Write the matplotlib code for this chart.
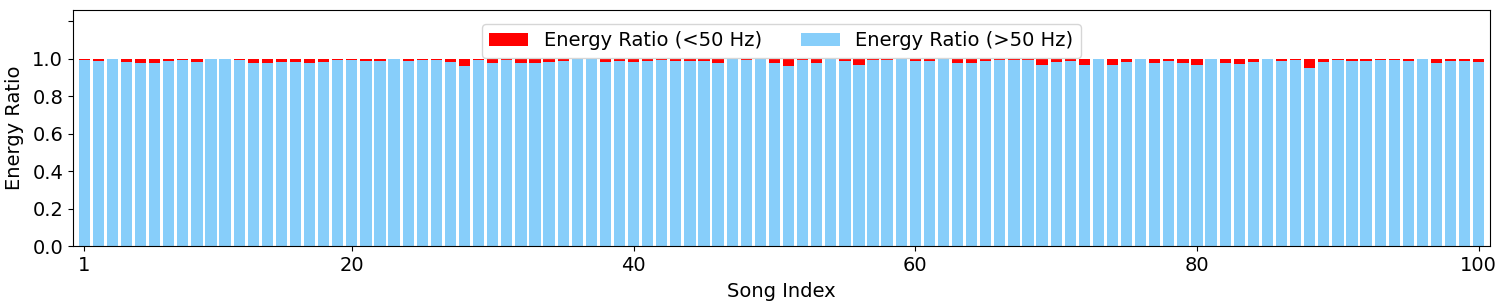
import matplotlib
matplotlib.use("Agg")
import matplotlib.pyplot as plt
import numpy as np

# share of energy below 50 Hz for each song
low_ratio = [0.005, 0.012, 0.003, 0.017, 0.020, 0.023, 0.014, 0.004, 0.015, 0.003,
             0.003, 0.007, 0.023, 0.025, 0.018, 0.018, 0.025, 0.018, 0.009, 0.004,
             0.012, 0.012, 0.003, 0.014, 0.009, 0.007, 0.016, 0.039, 0.009, 0.023,
             0.009, 0.020, 0.020, 0.016, 0.012, 0.003, 0.003, 0.016, 0.011, 0.018,
             0.011, 0.007, 0.011, 0.014, 0.012, 0.023, 0.003, 0.007, 0.003, 0.021,
             0.037, 0.009, 0.025, 0.003, 0.011, 0.032, 0.005, 0.009, 0.003, 0.011,
             0.014, 0.003, 0.020, 0.023, 0.014, 0.004, 0.004, 0.004, 0.035, 0.016,
             0.011, 0.035, 0.003, 0.034, 0.018, 0.003, 0.021, 0.012, 0.020, 0.032,
             0.003, 0.020, 0.028, 0.016, 0.003, 0.014, 0.009, 0.050, 0.016, 0.009,
             0.014, 0.011, 0.009, 0.009, 0.011, 0.003, 0.021, 0.012, 0.012, 0.016]
song_index = np.arange(1, len(low_ratio) + 1)
low = np.array(low_ratio)
high = 1 - low

xtick_pos = [1, 20, 40, 60, 80, 100]
ytick_pos = [0.0, 0.2, 0.4, 0.6, 0.8, 1.0, 1.2]
ytick_lab = ["0.0", "0.2", "0.4", "0.6", "0.8", "1.0", ""]

fig = plt.figure(figsize=(15.04, 3.06), dpi=100)
ax = fig.add_axes([0.0485, 0.196, 0.9422, 0.771])

# red full bar underneath, blue on top
ax.bar(song_index, low + high, width=0.8, color="red", label="Energy Ratio (<50 Hz)")
ax.bar(song_index, high, width=0.8, color="lightskyblue", label="Energy Ratio (>50 Hz)")

ax.set_xlim(0.2, 100.8)
ax.set_ylim(0, 1.26)
ax.set_xticks(xtick_pos)
ax.set_yticks(ytick_pos)
ax.set_yticklabels(ytick_lab)
ax.tick_params(labelsize=14)
ax.set_xlabel("Song Index", fontsize=14, labelpad=5)
ax.set_ylabel("Energy Ratio", fontsize=14, labelpad=6)
ax.legend(loc="upper center", ncol=2, fontsize=14, borderaxespad=0.7)

fig.savefig("out.png", dpi=100)
